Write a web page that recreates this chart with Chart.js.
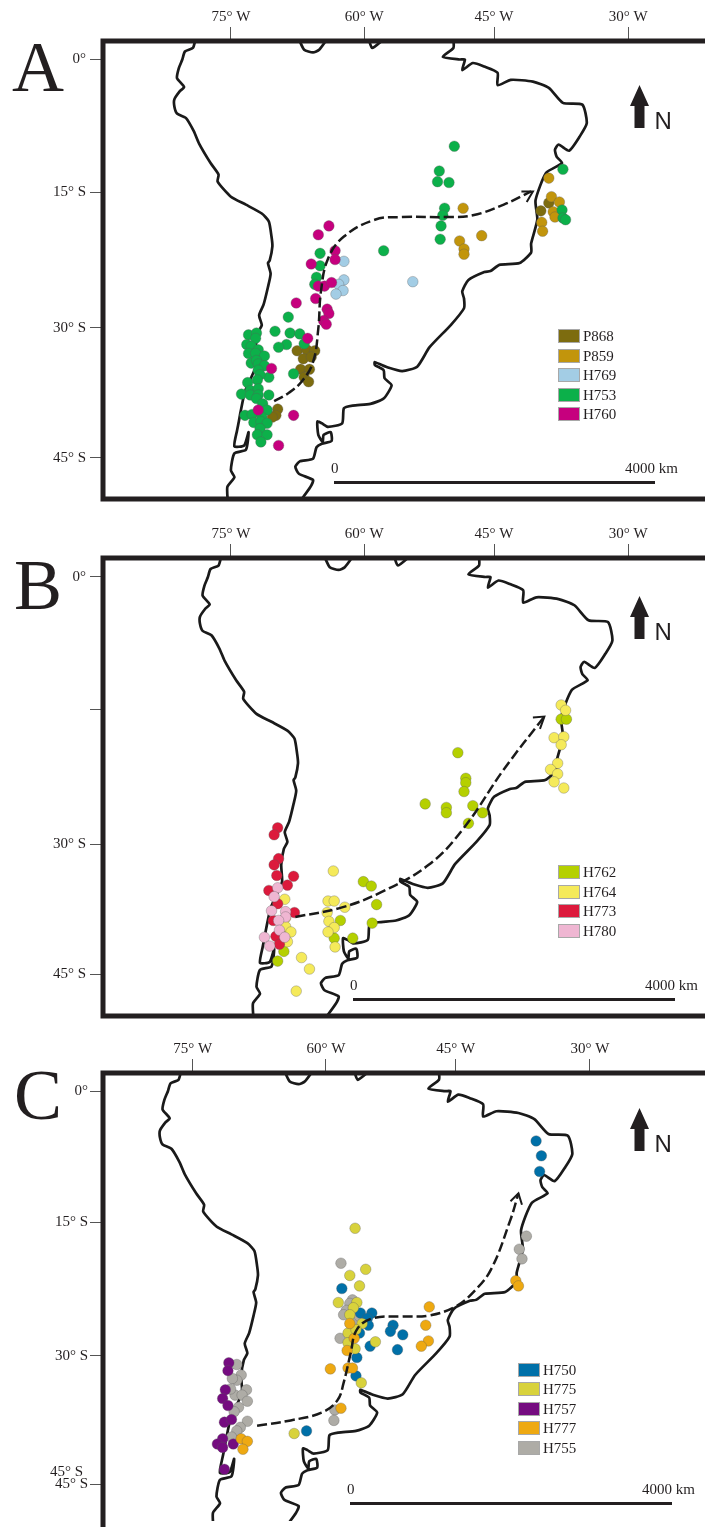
<!DOCTYPE html>
<html>
<head>
<meta charset="utf-8">
<title>Haplotype maps</title>
<script src="https://cdn.jsdelivr.net/npm/chart.js@4"></script>
<style>
  html, body { margin: 0; padding: 0; background: #fff; }
  #page { position: relative; width: 705px; height: 1527px; overflow: hidden; font-family: 'Liberation Serif', serif; color: #231f20; }
  canvas { position: absolute; left: 0; }
  .txt { position: absolute; white-space: nowrap; font-size: 15px; line-height: 16px; }
  .letter { position: absolute; font-size: 72px; line-height: 72px; }
  .north { position: absolute; font-family: 'Liberation Sans', sans-serif; font-size: 24px; line-height: 24px; }
  .bar { position: absolute; height: 3px; background: #231f20; }
  .swatch { position: absolute; width: 20px; height: 12px; border: 1px solid #a8a8a8; box-sizing: content-box; }
  svg { position: absolute; }
</style>
</head>
<body>
<div id="page"></div>
<script>
// axis ticks
const lonTicks = [-75, -59.9, -45.2, -30];
const lonLabels = ['75° W', '60° W', '45° W', '30° W'];
const latTicks = [0, -15, -30.3, -45];
const latLabelsFull = ['0°', '15° S', '30° S', '45° S'];
const latLabelsB = ['0°', '', '30° S', '45° S'];

// coastline, lon / lat
const coastWest = [[-79.0,2.3],[-79.3,1.3],[-80.2,0.9],[-80.5,0],[-80.9,-1.0],[-81.1,-2.1],[-80.3,-3.1],[-80.8,-3.6],[-81.4,-4.5],[-81.4,-5.3],[-81.1,-6.1],[-80.1,-6.6],[-79.2,-8.1],[-78.6,-9.5],[-77.3,-11.7],[-76.4,-13.0],[-76.5,-13.8],[-75.0,-15.5],[-73.3,-16.4],[-71.5,-17.4],[-70.7,-18.3],[-70.4,-20.0],[-70.3,-21.1],[-70.6,-22.7],[-70.8,-23.0],[-70.5,-24.2],[-70.8,-25.7],[-71.3,-27.7],[-71.8,-28.9],[-71.5,-30.0],[-71.9,-30.8],[-72.2,-32.6],[-72.1,-34.5],[-72.6,-35.7],[-73.4,-37.5],[-73.9,-39.8],[-74.1,-40.9],[-74.3,-41.9],[-74.6,-43.7],[-73.5,-43.6],[-73.0,-42.1],[-73.3,-44.1],[-74.6,-44.5],[-75.0,-46.4],[-74.6,-47.2],[-75.4,-48.3],[-75.3,-50.5]];
const coastEast = [[-67.6,-50.5],[-66.0,-48.3],[-65.7,-47.5],[-67.3,-46.8],[-67.7,-46.0],[-67.2,-45.4],[-65.7,-45.1],[-65.3,-43.8],[-64.7,-43.4],[-63.6,-43.1],[-63.7,-42.1],[-64.5,-42.4],[-64.6,-43.2],[-65.1,-42.4],[-65.2,-40.9],[-64.7,-41.1],[-64.0,-41.5],[-62.4,-41.1],[-62.2,-39.4],[-61.2,-39.1],[-59.2,-38.9],[-57.7,-38.3],[-56.8,-36.8],[-57.6,-36.0],[-57.7,-35.1],[-58.7,-34.5],[-58.7,-34.2],[-57.2,-34.8],[-55.6,-35.2],[-53.9,-34.7],[-52.5,-32.5],[-50.1,-30.0],[-48.6,-28.1],[-48.6,-27.0],[-48.8,-26.2],[-48.1,-24.9],[-46.3,-24.0],[-45.6,-23.9],[-44.6,-23.2],[-42.3,-23.0],[-41.0,-21.8],[-41.0,-20.8],[-40.3,-18.1],[-40.5,-15.9],[-39.3,-12.8],[-37.5,-11.7],[-38.1,-11.0],[-38.3,-10.2],[-37.9,-9.6],[-36.7,-10.3],[-35.5,-8.7],[-34.7,-7.2],[-35.2,-5.1],[-37.4,-4.9],[-39.0,-3.2],[-40.8,-2.5],[-43.3,-2.3],[-44.8,-2.9],[-44.8,-1.5],[-46.3,-0.8],[-47.6,-0.4],[-48.8,-1.2],[-48.5,0],[-49.1,0],[-51.0,0.3],[-49.8,1.3],[-49.8,2.3]];
const coastBay1 = [[-67.3,2.3],[-66.7,1.1],[-65.7,0.8],[-65.0,1.1],[-64.1,2.3]];
const coastBay2 = [[-59.4,2.3],[-59.0,1.3],[-57.7,2.3]];

// panel A sites
const p868 = [[-39.9,-17.1],[-39.0,-16.2],[-67.5,-32.9],[-66.4,-32.8],[-65.5,-32.9],[-66.8,-33.8],[-65.9,-33.6],[-67.1,-35.0],[-66.1,-35.0],[-66.7,-35.9],[-66.2,-36.4],[-69.7,-39.5],[-69.9,-40.2],[-70.3,-40.4]];
const p859 = [[-39.0,-13.4],[-38.7,-15.5],[-37.8,-16.1],[-38.5,-17.2],[-38.3,-17.8],[-39.8,-18.4],[-39.7,-19.4],[-48.7,-16.8],[-46.6,-19.9],[-49.1,-20.5],[-48.6,-21.4],[-48.6,-22.0]];
const h769 = [[-62.2,-22.8],[-62.2,-24.9],[-62.8,-25.4],[-62.3,-26.1],[-63.1,-26.5],[-54.4,-25.1]];
const h753 = [[-49.7,-9.8],[-51.4,-12.6],[-51.6,-13.8],[-50.3,-13.9],[-37.4,-12.4],[-50.8,-16.8],[-51.0,-17.6],[-51.2,-18.8],[-51.3,-20.3],[-57.7,-21.6],[-37.5,-17.0],[-37.4,-17.9],[-37.1,-18.1],[-64.9,-21.9],[-64.9,-23.3],[-65.3,-24.6],[-65.5,-25.4],[-68.5,-29.1],[-70.0,-30.7],[-68.3,-30.9],[-67.2,-31.0],[-66.7,-32.1],[-68.7,-32.2],[-69.6,-32.5],[-67.9,-35.5],[-70.7,-35.9],[-70.7,-37.9],[-73.0,-31.1],[-72.1,-30.9],[-72.2,-31.5],[-73.2,-32.2],[-72.7,-32.4],[-71.9,-32.8],[-73.0,-33.2],[-72.2,-33.2],[-71.2,-33.5],[-72.7,-34.3],[-72.1,-34.0],[-71.9,-34.4],[-71.2,-34.6],[-71.9,-35.1],[-71.7,-35.6],[-72.0,-36.2],[-73.1,-36.5],[-72.8,-37.4],[-71.9,-37.2],[-73.8,-37.8],[-72.8,-37.9],[-71.9,-37.9],[-72.1,-38.3],[-71.4,-38.9],[-70.9,-39.6],[-73.4,-40.2],[-72.6,-40.1],[-71.5,-40.4],[-72.4,-41.0],[-71.6,-40.9],[-70.9,-41.1],[-71.7,-41.7],[-72.0,-42.4],[-70.9,-42.4],[-71.6,-43.2]];
const h760 = [[-63.9,-18.8],[-65.1,-19.8],[-63.2,-21.6],[-63.2,-22.6],[-65.9,-23.1],[-65.1,-25.6],[-64.4,-25.6],[-63.6,-25.2],[-65.4,-27.0],[-67.6,-27.5],[-64.1,-28.2],[-63.9,-28.7],[-64.5,-29.5],[-64.2,-29.9],[-66.3,-31.5],[-70.4,-34.9],[-71.9,-39.6],[-67.9,-40.2],[-69.6,-43.6]];
const routeA = [[-70.1,-38.6],[-68.5,-37.7],[-67.0,-36.4],[-65.7,-34.2],[-65.1,-30.4],[-64.8,-26.2],[-64.0,-22.5],[-62.2,-20.0],[-58.7,-18.1],[-55.6,-17.8],[-50.6,-17.8],[-47.6,-17.6],[-44.1,-16.4],[-41.0,-14.9]];
const headA = [[-42.1,-14.9],[-40.8,-14.9],[-41.5,-16.1]];

// panel B sites
const h762 = [[-37.6,-16.1],[-37.0,-16.1],[-49.3,-19.9],[-48.4,-22.8],[-48.4,-23.3],[-48.6,-24.3],[-53.0,-25.7],[-50.6,-26.1],[-50.6,-26.7],[-47.6,-25.9],[-46.5,-26.7],[-48.1,-27.9],[-60.0,-34.5],[-59.1,-35.0],[-58.5,-37.1],[-59.0,-39.2],[-61.2,-40.9],[-62.6,-38.9],[-63.3,-40.9],[-69.0,-42.4],[-69.7,-43.5]];
const h764 = [[-37.6,-14.5],[-37.1,-15.1],[-38.4,-18.2],[-37.3,-18.1],[-37.6,-19.0],[-38.0,-21.1],[-38.8,-21.8],[-38.0,-22.3],[-38.4,-23.2],[-37.3,-23.9],[-63.4,-33.3],[-64.0,-36.7],[-63.3,-36.7],[-62.1,-37.4],[-64.1,-38.0],[-63.9,-39.0],[-63.3,-39.7],[-64.0,-40.2],[-63.2,-41.9],[-68.9,-36.5],[-68.8,-38.6],[-68.8,-39.6],[-68.2,-40.2],[-68.6,-41.3],[-67.0,-43.1],[-66.1,-44.4],[-67.6,-46.9]];
const h773 = [[-69.7,-28.4],[-70.1,-29.2],[-69.6,-31.9],[-70.1,-32.6],[-69.8,-33.8],[-67.9,-33.9],[-68.6,-34.9],[-70.7,-35.5],[-69.7,-37.0],[-67.8,-38.0],[-70.2,-38.9],[-69.9,-40.7],[-69.5,-41.6]];
const h780 = [[-69.7,-35.2],[-70.1,-36.2],[-70.4,-37.8],[-68.8,-37.9],[-68.8,-38.5],[-69.6,-38.9],[-69.5,-40.0],[-68.9,-40.8],[-71.2,-40.8],[-70.6,-41.8]];
const routeB = [[-67.7,-38.5],[-62.7,-37.5],[-58.2,-35.8],[-52.6,-32.6],[-48.6,-28.4],[-44.1,-21.8],[-39.5,-15.8]];
const headB = [[-40.8,-15.9],[-39.5,-15.8],[-40.0,-17.2]];

// panel C sites
const h750 = [[-36.1,-5.7],[-35.5,-7.4],[-35.7,-9.2],[-58.1,-22.6],[-56.0,-25.4],[-54.7,-25.4],[-55.2,-26.0],[-55.1,-26.8],[-52.3,-26.8],[-52.6,-27.5],[-51.2,-27.9],[-51.8,-29.6],[-54.9,-29.2],[-56.1,-27.7],[-56.4,-30.5],[-56.5,-32.6],[-62.1,-38.9]];
const h775 = [[-56.6,-15.7],[-55.4,-20.4],[-57.2,-21.1],[-56.1,-22.3],[-58.5,-24.2],[-56.4,-24.2],[-56.8,-24.8],[-57.2,-25.6],[-55.8,-26.6],[-57.4,-27.7],[-56.5,-27.3],[-57.4,-28.8],[-56.6,-29.5],[-54.3,-28.7],[-55.9,-33.4],[-63.5,-39.2]];
const h757 = [[-70.9,-31.1],[-71.0,-32.0],[-71.3,-34.2],[-71.6,-35.2],[-71.0,-36.0],[-71.4,-37.9],[-70.6,-37.6],[-71.6,-39.8],[-72.2,-40.4],[-71.6,-40.8],[-70.4,-40.4],[-71.4,-43.3]];
const h777 = [[-38.4,-21.7],[-38.1,-22.3],[-48.2,-24.7],[-48.6,-26.8],[-48.3,-28.6],[-49.1,-29.2],[-57.2,-26.6],[-56.7,-28.3],[-57.5,-29.7],[-59.4,-31.8],[-57.4,-31.7],[-56.9,-31.7],[-58.2,-36.3],[-69.5,-39.8],[-68.8,-40.1],[-69.3,-41.0]];
const h755 = [[-37.2,-16.6],[-38.0,-18.1],[-37.7,-19.2],[-58.2,-19.7],[-56.9,-23.9],[-57.2,-24.3],[-57.6,-25.1],[-57.9,-25.6],[-56.3,-26.2],[-56.1,-25.8],[-58.3,-28.3],[-58.9,-36.5],[-59.0,-37.7],[-70.0,-31.3],[-69.5,-32.5],[-70.0,-33.1],[-70.5,-32.9],[-68.9,-34.2],[-70.2,-34.8],[-69.4,-34.8],[-70.7,-34.1],[-68.8,-35.5],[-69.8,-36.2],[-70.3,-36.7],[-68.8,-37.8],[-69.6,-38.5],[-70.0,-38.9],[-70.6,-39.6]];
const routeC = [[-67.7,-38.3],[-63.9,-37.7],[-60.4,-36.8],[-58.6,-35.4],[-57.9,-33.4],[-57.1,-30.0],[-56.4,-27.3],[-54.6,-26.0],[-51.3,-25.8],[-48.3,-25.7],[-45.3,-24.7],[-43.2,-23.0],[-41.2,-20.4],[-39.0,-14.7],[-38.1,-11.7]];
const headC = [[-39.0,-12.6],[-38.1,-11.7],[-37.7,-13.0]];

var ink = '#231f20';
var page = document.getElementById('page');

function pts(arr, shift) {
  return arr.map(function (p) { return { x: p[0] + (shift || 0), y: p[1] }; });
}

function addText(cls, text, left, top) {
  var d = document.createElement('div');
  d.className = cls;
  d.textContent = text;
  d.style.left = left + 'px';
  d.style.top = top + 'px';
  page.appendChild(d);
  return d;
}

function addLegend(items, x, y, step) {
  // legend order is top to bottom, as printed
  items.forEach(function (it, i) {
    var s = document.createElement('div');
    s.className = 'swatch';
    s.style.left = x + 'px';
    s.style.top = (y + i * step) + 'px';
    s.style.background = it.color;
    page.appendChild(s);
    addText('txt', it.name, x + 25, y + i * step - 1);
  });
}

function addNorth(x, y) {
  var ns = 'http://www.w3.org/2000/svg';
  var svg = document.createElementNS(ns, 'svg');
  svg.setAttribute('width', 20);
  svg.setAttribute('height', 44);
  svg.style.left = x + 'px';
  svg.style.top = y + 'px';
  var p = document.createElementNS(ns, 'path');
  p.setAttribute('d', 'M9.5 0 L19 21 L14.5 21 L14.5 43 L4.5 43 L4.5 21 L0 21 Z');
  p.setAttribute('fill', ink);
  svg.appendChild(p);
  page.appendChild(svg);
  addText('north', 'N', x + 25, y + 24);
}

function addScale(x1, x2, y) {
  var b = document.createElement('div');
  b.className = 'bar';
  b.style.left = x1 + 'px';
  b.style.top = (y - 1) + 'px';
  b.style.width = (x2 - x1) + 'px';
  page.appendChild(b);
  addText('txt', '0', x1 - 3, y - 22);
  addText('txt', '4000 km', x2 - 30, y - 22);
}

// thick map frame, open on the right
var framePlugin = {
  id: 'frame',
  afterDatasetsDraw: function (chart, args, opts) {
    var a = chart.chartArea;
    var c = chart.ctx;
    c.save();
    c.strokeStyle = ink;
    c.lineWidth = 5;
    c.beginPath();
    c.moveTo(chart.width, a.top);
    c.lineTo(a.left, a.top);
    c.lineTo(a.left, opts.closed ? a.bottom : chart.height + 5);
    if (opts.closed) c.lineTo(chart.width, a.bottom);
    c.stroke();
    c.restore();
  }
};

function drawPanel(p) {
  var canvas = document.createElement('canvas');
  canvas.width = 705;
  canvas.height = p.height;
  canvas.style.top = p.top + 'px';
  page.appendChild(canvas);

  var datasets = [];
  datasets.push({ data: pts(p.route), showLine: true, tension: 0.4, borderColor: '#1a1a1a', borderWidth: 2.5, borderDash: [10, 4], pointRadius: 0 });
  datasets.push({ data: pts(p.head), showLine: true, borderColor: '#1a1a1a', borderWidth: 2, pointRadius: 0 });
  p.series.forEach(function (s) {
    datasets.push({ label: s.name, data: pts(s.data), backgroundColor: s.color, borderColor: 'rgba(90,90,90,0.55)', borderWidth: 0.6, pointRadius: 5.3 });
  });
  [coastWest, coastEast, coastBay1, coastBay2].forEach(function (c) {
    datasets.push({ data: pts(c, p.coastShift), showLine: true, tension: 0.2, borderColor: '#1a1a1a', borderWidth: 2.7, pointRadius: 0, borderJoinStyle: 'round' });
  });

  new Chart(canvas, {
    type: 'scatter',
    data: { datasets: datasets },
    plugins: [framePlugin],
    options: {
      responsive: false,
      animation: false,
      events: [],
      layout: { padding: { bottom: p.padBottom } },
      plugins: {
        legend: { display: false },
        tooltip: { enabled: false },
        frame: { closed: p.closed }
      },
      scales: {
        x: {
          type: 'linear',
          position: 'top',
          min: p.lonMin,
          max: p.lonMax,
          afterBuildTicks: function (s) { s.ticks = lonTicks.map(function (v) { return { value: v }; }); },
          afterFit: function (s) { s.height = p.areaTop; s.paddingLeft = 0; s.paddingRight = 0; },
          border: { display: false },
          grid: { drawOnChartArea: false, tickLength: 14, tickWidth: 1, color: '#555' },
          ticks: {
            autoSkip: false, maxRotation: 0, minRotation: 0, padding: 1, color: ink,
            font: { family: 'Liberation Serif', size: 15 },
            callback: function (v, i) { return lonLabels[i]; }
          }
        },
        y: {
          type: 'linear',
          min: p.latMin,
          max: p.latMax,
          afterBuildTicks: function (s) { s.ticks = latTicks.map(function (v) { return { value: v }; }); },
          afterFit: function (s) { s.width = 103; s.paddingTop = 0; s.paddingBottom = 0; },
          border: { display: false },
          grid: { drawOnChartArea: false, tickLength: 13, tickWidth: 1, color: '#555' },
          ticks: {
            autoSkip: false, padding: p.latPad, color: ink,
            font: { family: 'Liberation Serif', size: 15 },
            callback: function (v, i) { return p.latLabels[i]; }
          }
        }
      }
    }
  });
}

// first series listed is painted on top
var colors = {
  p868: '#7d6c0f', p859: '#c2950c', h769: '#a3cde5', h753: '#0cb04a', h760: '#c6007e',
  h762: '#b5d000', h764: '#f5ea5a', h773: '#dc1a3c', h780: '#efb6d2',
  h750: '#0070a8', h775: '#d8d23c', h757: '#750c80', h777: '#eea912', h755: '#aeaca6'
};

drawPanel({
  top: 0, height: 505, padBottom: 6, areaTop: 41, closed: true, latPad: 4,
  lonMin: -89.48, lonMax: -21.98, latMax: 2.09, latMin: -49.65, coastShift: 0,
  latLabels: latLabelsFull, route: routeA, head: headA,
  series: [
    { name: 'H760', data: h760, color: colors.h760 },
    { name: 'H753', data: h753, color: colors.h753 },
    { name: 'H769', data: h769, color: colors.h769 },
    { name: 'P859', data: p859, color: colors.p859 },
    { name: 'P868', data: p868, color: colors.p868 }
  ]
});
drawPanel({
  top: 510, height: 512, padBottom: 5, areaTop: 48, closed: true, latPad: 4,
  lonMin: -89.48, lonMax: -21.98, latMax: 2.15, latMin: -49.73, coastShift: 2.9,
  latLabels: latLabelsB, route: routeB, head: headB,
  series: [
    { name: 'H780', data: h780, color: colors.h780 },
    { name: 'H773', data: h773, color: colors.h773 },
    { name: 'H764', data: h764, color: colors.h764 },
    { name: 'H762', data: h762, color: colors.h762 }
  ]
});
drawPanel({
  top: 1025, height: 502, padBottom: 0, areaTop: 48, closed: false, latPad: 2,
  lonMin: -85.15, lonMax: -17.64, latMax: 2.08, latMin: -49.23, coastShift: 2.7,
  latLabels: latLabelsFull, route: routeC, head: headC,
  series: [
    { name: 'H777', data: h777, color: colors.h777 },
    { name: 'H775', data: h775, color: colors.h775 },
    { name: 'H750', data: h750, color: colors.h750 },
    { name: 'H757', data: h757, color: colors.h757 },
    { name: 'H755', data: h755, color: colors.h755 }
  ]
});

addText('letter', 'A', 12, 31);
addText('letter', 'B', 14, 549);
addText('letter', 'C', 14, 1059);
addText('txt', '45° S', 50, 1463);

addLegend([
  { name: 'P868', color: colors.p868 }, { name: 'P859', color: colors.p859 }, { name: 'H769', color: colors.h769 },
  { name: 'H753', color: colors.h753 }, { name: 'H760', color: colors.h760 }
], 558, 329, 19.6);
addLegend([
  { name: 'H762', color: colors.h762 }, { name: 'H764', color: colors.h764 },
  { name: 'H773', color: colors.h773 }, { name: 'H780', color: colors.h780 }
], 558, 865, 19.5);
addLegend([
  { name: 'H750', color: colors.h750 }, { name: 'H775', color: colors.h775 }, { name: 'H757', color: colors.h757 },
  { name: 'H777', color: colors.h777 }, { name: 'H755', color: colors.h755 }
], 518, 1363, 19.4);

addNorth(629.5, 85);
addNorth(629.5, 596);
addNorth(629.5, 1108);

addScale(334, 655, 482);
addScale(353, 675, 999);
addScale(350, 672, 1503);
</script>
</body>
</html>
